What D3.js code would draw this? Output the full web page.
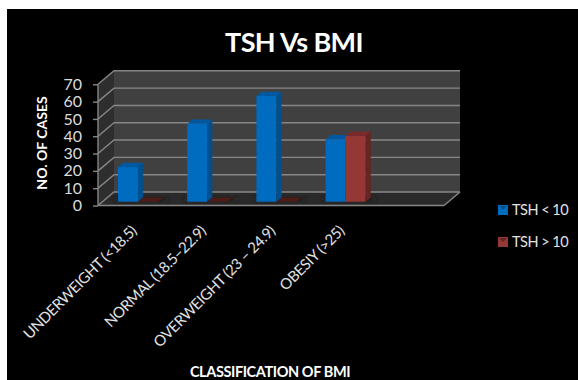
<!DOCTYPE html>
<html>
<head>
<meta charset="utf-8">
<script src="https://cdn.jsdelivr.net/npm/d3@7/dist/d3.min.js"></script>
<style>
  html, body { margin: 0; padding: 0; background: #fff; }
  svg { display: block; }
  text { font-family: Lato, "Open Sans", sans-serif; }
</style>
</head>
<body>
<svg id="chart" width="578" height="380"></svg>
<script>
const categories = ["UNDERWEIGHT (<18.5)", "NORMAL (18.5–22.9)", "OVERWEIGHT (23 – 24.9)", "OBESIY (>25)", ""];
const tshBelow10 = [20, 45, 61, 36];
const tshAbove10 = [0, 0, 0, 38];
const seriesNames = ["TSH < 10", "TSH > 10"];
const yTicks = [0, 10, 20, 30, 40, 50, 60, 70];

const titleText = "TSH Vs BMI";
const yTitleText = "NO. OF CASES";
const xTitleText = "CLASSIFICATION OF BMI";

const palette = [
  { front: "#006cc0", side: "#004f8e", top: "#0059a0" },
  { front: "#953735", side: "#632523", top: "#7a2c2a" }
];

const svg = d3.select("#chart");
svg.append("rect").attr("x", 7).attr("y", 9).attr("width", 571).attr("height", 371).attr("fill", "#000");

const defs = svg.append("defs");
defs.append("filter").attr("id", "floorShadow")
  .attr("x", "-50%").attr("y", "-50%").attr("width", "200%").attr("height", "200%")
  .append("feGaussianBlur").attr("stdDeviation", 3);
defs.append("filter").attr("id", "soft")
  .append("feGaussianBlur").attr("stdDeviation", 0.35);

// Oblique projection: depth 0 is the front of the floor, depth 1 the back wall.
const depthX = 16, depthY = 13.5;
const x = d3.scaleBand().domain(categories).range([98, 444]);
const y = d3.scaleLinear().domain([0, 70]).range([205.5, 84.3]);
const project = (px, value, depth) => [px + depth * depthX, y(value) - depth * depthY];
const poly = pts => pts.map(p => p.join(",")).join(" ");

const [x0, x1] = x.range();
const vMax = y.domain()[1];

const plot = svg.append("g").attr("filter", "url(#soft)");

// Back wall, side wall and floor
plot.append("polygon").attr("fill", "#404040").attr("points", poly([
  project(x0, 0, 1), project(x1, 0, 1), project(x1, vMax, 1), project(x0, vMax, 1)
]));
plot.append("polygon").attr("fill", "#2f2f2f").attr("points", poly([
  project(x0, 0, 0), project(x0, 0, 1), project(x0, vMax, 1), project(x0, vMax, 0)
]));
plot.append("polygon").attr("fill", "#2b2b2b").attr("points", poly([
  project(x0, 0, 0), project(x1, 0, 0), project(x1, 0, 1), project(x0, 0, 1)
]));

// Gridlines run along the side wall and across the back wall
const gridColor = "#868686";
yTicks.forEach(t => {
  const a = project(x0, t, 0), b = project(x0, t, 1), c = project(x1, t, 1);
  plot.append("polyline").attr("fill", "none").attr("stroke", gridColor).attr("stroke-width", 1.4)
    .attr("points", poly([a, b, c]));
});
plot.append("line").attr("stroke", gridColor).attr("stroke-width", 1.4)
  .attr("x1", x1).attr("y1", y(0)).attr("x2", x1 + depthX).attr("y2", y(0) - depthY);
plot.append("line").attr("stroke", gridColor).attr("stroke-width", 1.6)
  .attr("x1", x0).attr("y1", y(0)).attr("x2", x1).attr("y2", y(0));
plot.append("line").attr("stroke", gridColor).attr("stroke-width", 1.4)
  .attr("x1", x0).attr("y1", y(0)).attr("x2", x0).attr("y2", y(vMax));

// Bars
const barWidth = 20, barOffset = 20;
const depthNear = 0.28, depthFar = 0.6;
const series = [tshBelow10, tshAbove10];

function drawBar(cat, seriesIndex, value) {
  const c = palette[seriesIndex];
  const left = x(cat) + barOffset - depthNear * depthX + seriesIndex * barWidth;
  const right = left + barWidth;
  const g = plot.append("g");
  if (value > 0) {
    g.append("polygon").attr("fill", c.front).attr("points", poly([
      project(left, 0, depthNear), project(right, 0, depthNear),
      project(right, value, depthNear), project(left, value, depthNear)
    ]));
    g.append("polygon").attr("fill", c.side).attr("points", poly([
      project(right, 0, depthNear), project(right, 0, depthFar),
      project(right, value, depthFar), project(right, value, depthNear)
    ]));
  }
  g.append("polygon").attr("fill", value > 0 ? c.top : "#4e1a19").attr("points", poly([
    project(left, value, depthNear), project(right, value, depthNear),
    project(right, value, depthFar), project(left, value, depthFar)
  ]));
}

categories.forEach((cat, i) => {
  if (tshBelow10[i] === undefined) return;
  const left = x(cat) + barOffset - depthNear * depthX;
  const sw = project(left, 0, depthNear), ne = project(left + 2 * barWidth, 0, depthFar);
  plot.append("rect").attr("filter", "url(#floorShadow)").attr("fill", "#1c1c1c")
    .attr("x", sw[0] - 2).attr("y", ne[1]).attr("width", ne[0] - sw[0] + 6).attr("height", sw[1] - ne[1]);
});
categories.forEach((cat, i) => {
  if (tshBelow10[i] === undefined) return;
  // Later series sit to the right, so draw them first when they are flat
  if (series[1][i] === 0) { drawBar(cat, 1, series[1][i]); drawBar(cat, 0, series[0][i]); }
  else { drawBar(cat, 0, series[0][i]); drawBar(cat, 1, series[1][i]); }
});

// Value axis on the front edge of the side wall
const yAxis = d3.axisLeft(y).tickValues(yTicks).tickSize(5).tickPadding(11);
const yG = svg.append("g").attr("transform", `translate(${x0},0)`).call(yAxis);
yG.select(".domain").remove();
yG.selectAll("line").attr("stroke", gridColor).attr("stroke-width", 1.4);
yG.selectAll("text").attr("fill", "#dcdcdc").attr("font-size", 16).attr("font-family", "Lato");

// Category labels, slanted up to the right
svg.append("g").selectAll("text")
  .data(categories.filter(d => d))
  .join("text")
  .attr("transform", d => `translate(${x(d) + x.bandwidth() / 2 + 5},232) rotate(-45)`)
  .attr("text-anchor", "end")
  .attr("fill", "#e2e2e2")
  .attr("font-size", 15)
  .attr("letter-spacing", -0.45)
  .text(d => d);

// Titles
svg.append("text").attr("x", 294).attr("y", 52).attr("text-anchor", "middle")
  .attr("fill", "#fff").attr("font-size", 27).attr("font-weight", 700).attr("letter-spacing", -0.6).text(titleText);
svg.append("text").attr("transform", "translate(47,143) rotate(-90)").attr("text-anchor", "middle")
  .attr("fill", "#fff").attr("font-size", 14).attr("font-weight", 700).text(yTitleText);
svg.append("text").attr("x", 270).attr("y", 377).attr("text-anchor", "middle")
  .attr("fill", "#fff").attr("font-size", 14.5).attr("font-weight", 700).attr("letter-spacing", -0.4).text(xTitleText);

// Legend
const legend = svg.append("g").selectAll("g").data(seriesNames).join("g")
  .attr("transform", (d, i) => `translate(498,${205 + i * 32})`);
legend.append("rect").attr("width", 10).attr("height", 10).attr("fill", (d, i) => palette[i].front);
legend.append("polygon").attr("points", "1,1 9,1 5,5").attr("fill", (d, i) => palette[i].side);
legend.append("text").attr("x", 14).attr("y", 9.5).attr("fill", "#e2e2e2").attr("font-size", 14.5)
  .attr("letter-spacing", -0.5).text(d => d);
</script>
</body>
</html>
